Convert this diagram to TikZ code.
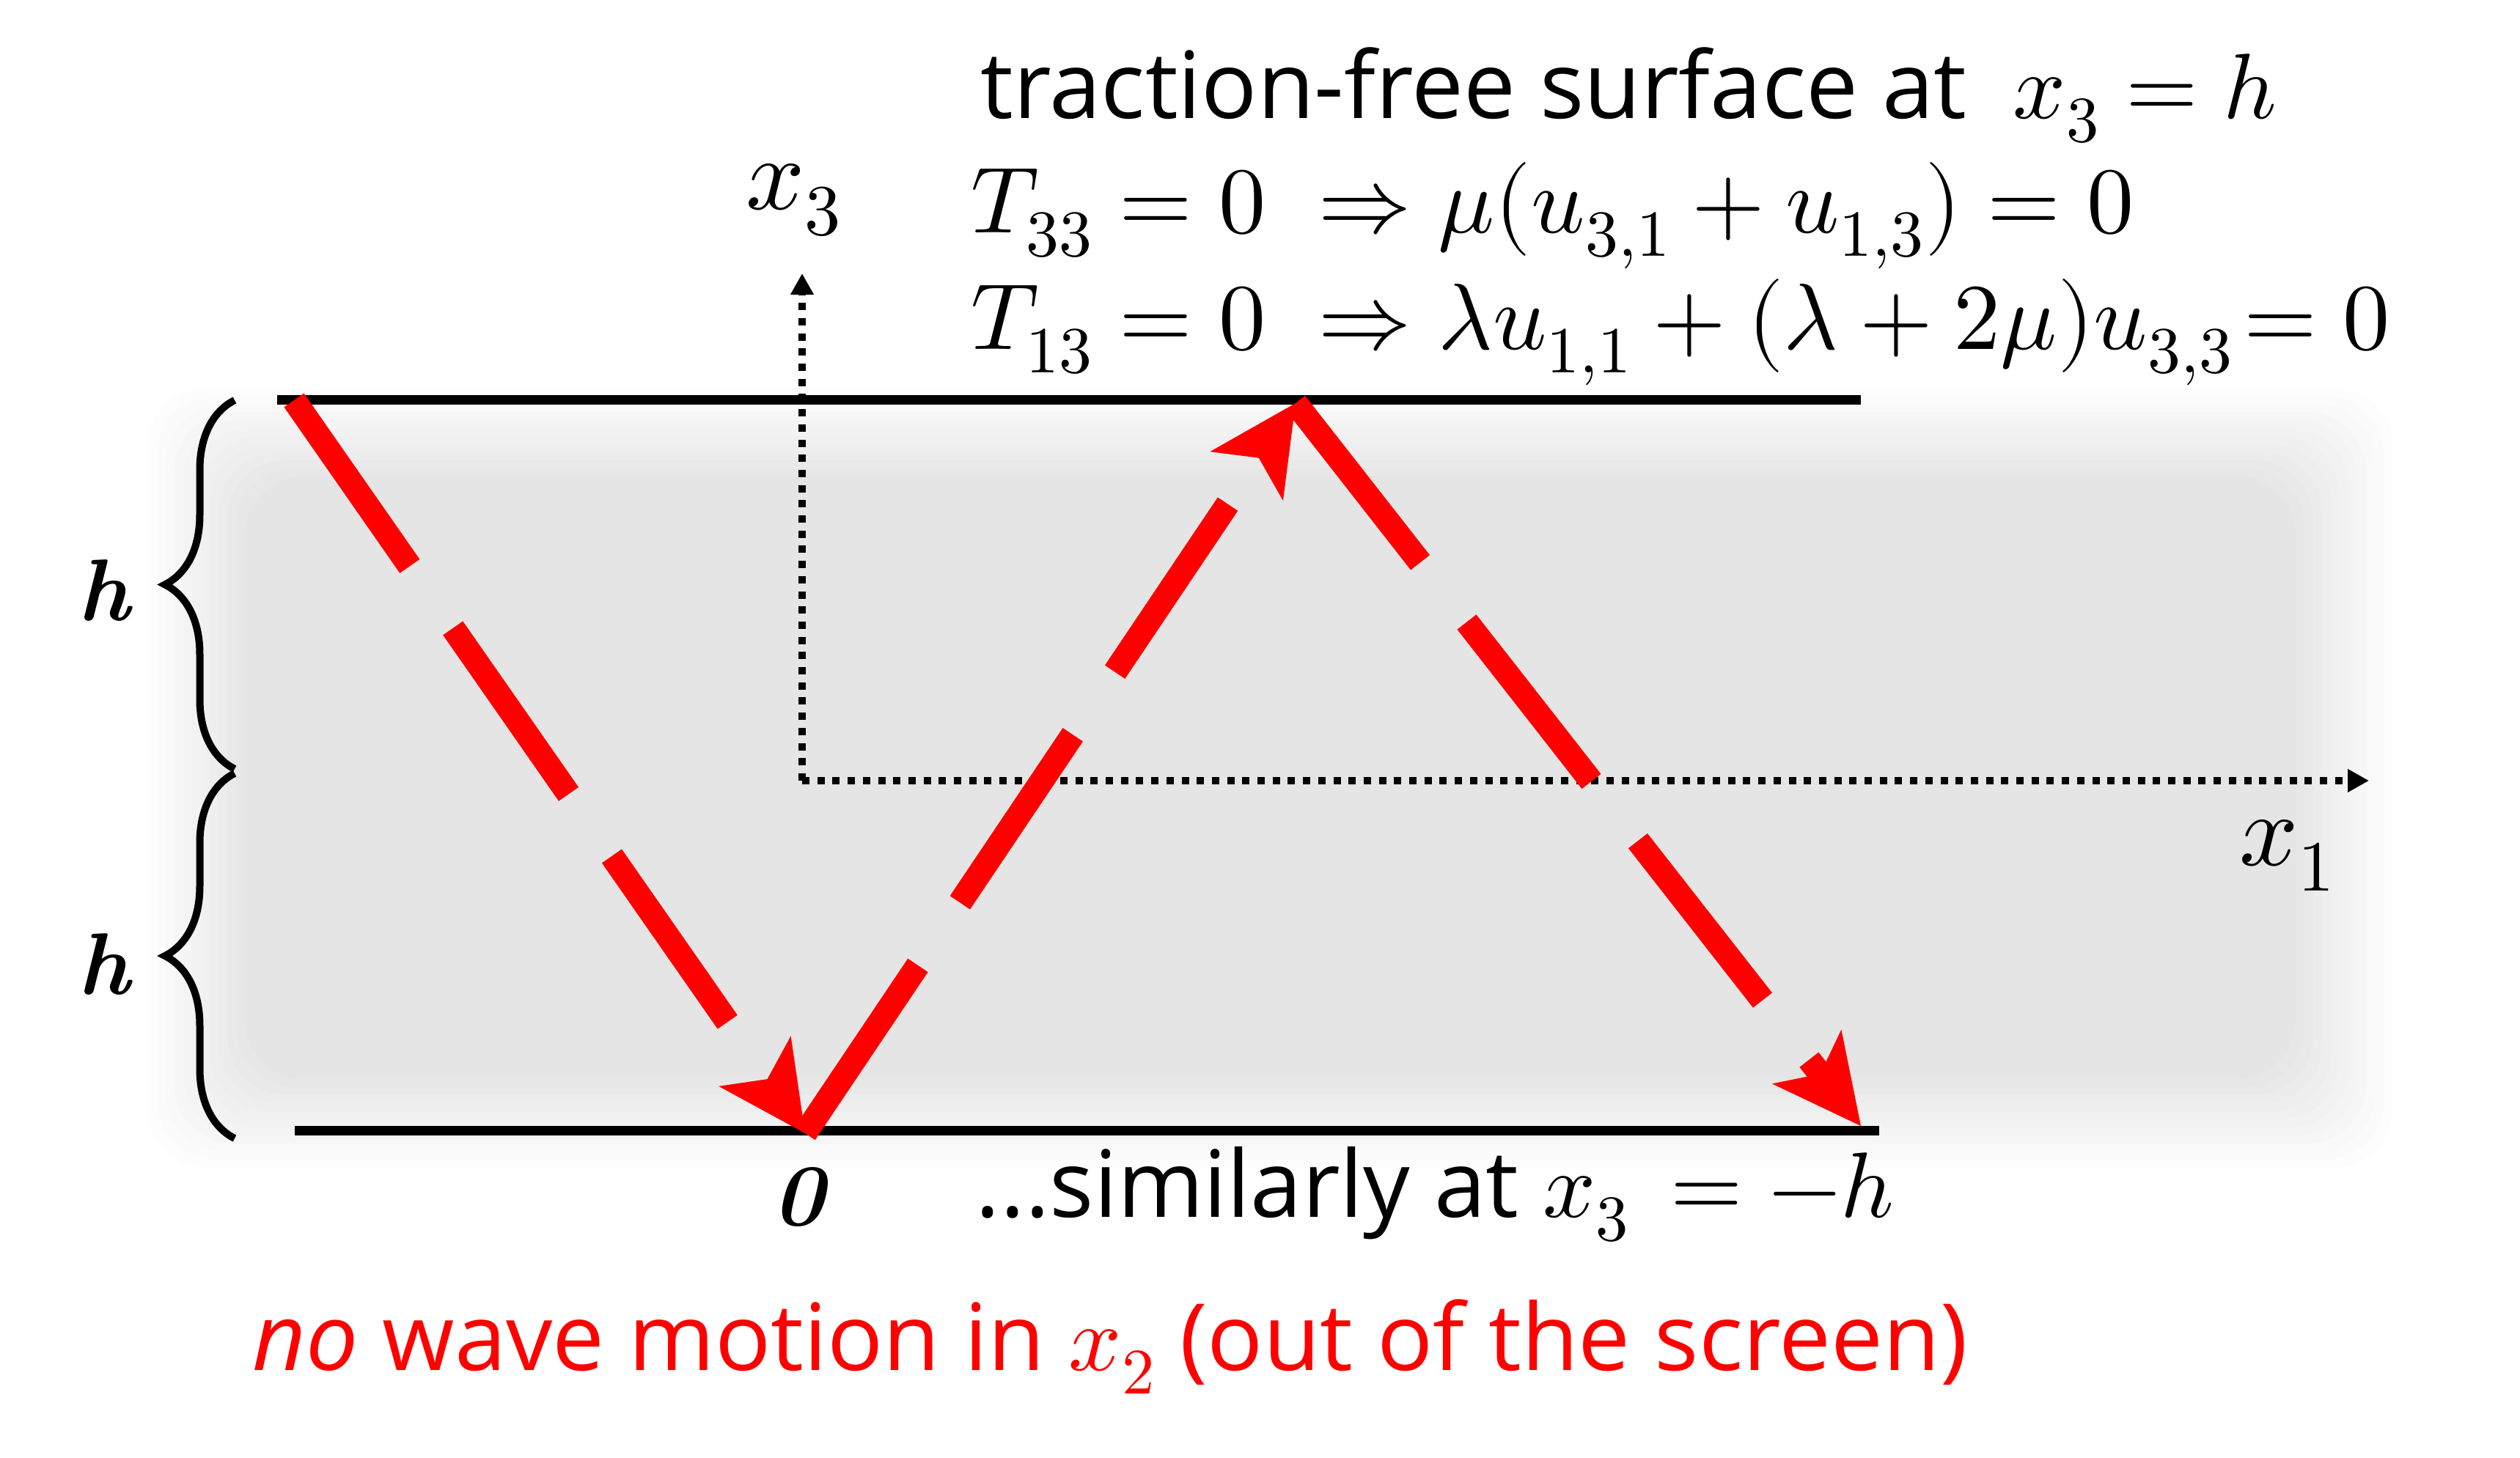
\documentclass[tikz,border=0pt]{standalone}
\usepackage{fontspec}
\usepackage{unicode-math}
\newfontfamily\comicfont{Open Sans}
\usetikzlibrary{arrows.meta, decorations.pathreplacing}

\tikzset{
  surface/.style={line width=0.13cm},
  axis/.style={line width=0.1cm, dash pattern=on 0.1cm off 0.107cm,
               -{Triangle[length=0.29cm, width=0.3cm]}},
  ray/.style={red, line width=0.33cm, dash pattern=on 2.76cm off 1.03cm,
              -{Stealth[length=1.2cm, width=1.2cm, inset=0.3cm, line width=0pt]}},
  layerbrace/.style={decorate, decoration={brace, amplitude=0.95cm}, line width=0.1cm},
  txt/.style={font=\comicfont\fontsize{36}{43}\selectfont, anchor=base west, inner sep=0pt},
  eqn/.style={font=\fontsize{36.5}{44}\selectfont, anchor=base west, inner sep=0pt},
  axlabel/.style={font=\fontsize{40}{48}\selectfont, inner sep=0pt},
  hlabel/.style={font=\fontsize{34}{40}\selectfont\bfseries\itshape, inner sep=0pt}
}

\begin{document}
\begin{tikzpicture}
  \useasboundingbox (0,0) rectangle (34.37,19.89);

  % soft gray layer
  \foreach \k in {1,...,12}{
    \pgfmathsetmacro\op{1/(13-\k)}
    \fill[black!10, opacity=\op, rounded corners=0.8cm]
      ({1.90+\k*0.12},{3.85+\k*0.11}) rectangle ({32.75-\k*0.12},{14.71-\k*0.11});
  }

  % surfaces
  \coordinate (tl) at (3.78,14.43);
  \coordinate (tr) at (25.38,14.43);
  \coordinate (bl) at (4.02,4.46);
  \coordinate (br) at (25.63,4.46);
  \draw[surface] (tl) -- (tr);
  \draw[surface] (bl) -- (br);

  % axes
  \coordinate (O) at (10.94,9.24);
  \coordinate (x3end) at (10.94,16.16);
  \coordinate (x1end) at (32.31,9.24);
  \draw[axis] (O) -- (x3end);
  \draw[axis] (O) -- (x1end);
  \node[axlabel] (x3lab) at (10.83,17.16) {$x_3$};
  \node[axlabel] (x1lab) at (31.20,8.22) {$x_1$};

  % reflected ray
  \coordinate (A) at (4.01,14.43);
  \coordinate (B) at (10.98,4.43);
  \coordinate (C) at (17.67,14.39);
  \coordinate (D) at (25.38,4.53);
  \draw[ray] (A) -- (B);
  \draw[ray] (B) -- (C);
  \draw[ray] (C) -- (D);

  % thickness braces
  \draw[layerbrace] (3.20,9.40) -- (3.20,14.43);
  \draw[layerbrace] (3.20,4.36) -- (3.20,9.34);
  \node[hlabel] (hup) at (1.42,11.84) {h};
  \node[hlabel] (hlow) at (1.42,6.74) {h};
  \node[hlabel] (zero) at (10.89,3.56) {0};

  % boundary conditions
  \node[txt] (bc) at (13.37,18.27) {traction-free surface at\enspace $x_3 = h$};
  \node[eqn] (t33) at (13.24,16.71) {$T_{33} = 0 \;\Rightarrow \mu(u_{3,1} + u_{1,3}) = 0$};
  \node[eqn] (t13) at (13.24,15.12) {$T_{13} = 0 \;\Rightarrow \lambda u_{1,1} + (\lambda + 2\mu)u_{3,3}\!= 0$};
  \node[txt] (sim) at (13.30,3.28) {...similarly at $x_3 \,= -h$};
  \node[txt, text=red] (nox2) at (3.44,1.19) {\textit{no} wave motion in $x_2$ (out of the screen)};
\end{tikzpicture}
\end{document}
